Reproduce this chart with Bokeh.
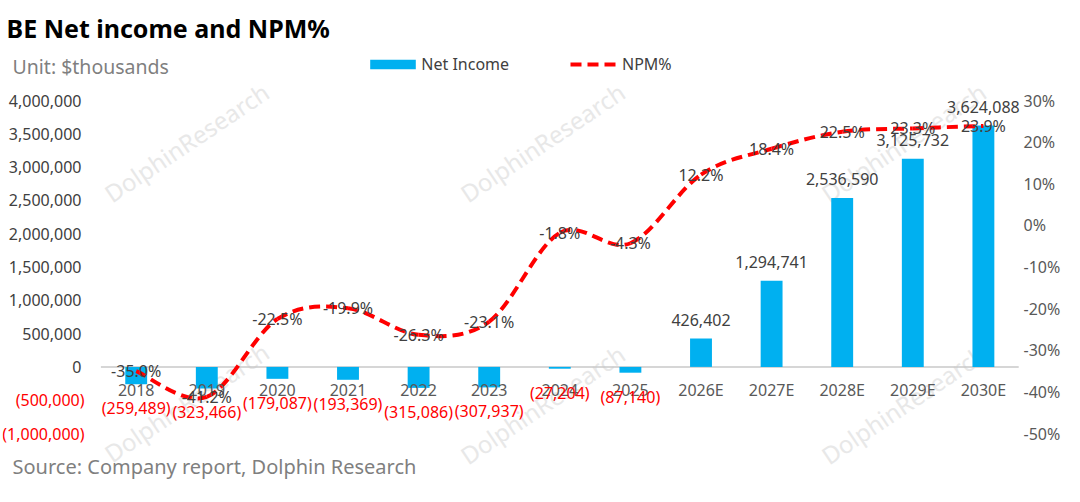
from bokeh.plotting import figure
from bokeh.models import (Range1d, LinearAxis, FixedTicker, NumeralTickFormatter,
                          PrintfTickFormatter, ColumnDataSource, LabelSet, Label,
                          Legend, LegendItem)
from bokeh.core.properties import value
from bokeh.embed import file_html
from bokeh.resources import INLINE

# ---------------- data ----------------
categories = ["2018", "2019", "2020", "2021", "2022", "2023", "2024", "2025",
              "2026E", "2027E", "2028E", "2029E", "2030E"]
net_income = [-259489, -323466, -179087, -193369, -315086, -307937, -27204, -87140,
              426402, 1294741, 2536590, 3125732, 3624088]
npm_pct = [-35.0, -41.2, -22.5, -19.9, -26.3, -23.1, -1.8, -4.3,
           12.2, 18.4, 22.5, 23.3, 23.9]
left_ticks = [0, 500000, 1000000, 1500000, 2000000, 2500000, 3000000, 3500000, 4000000]
left_neg_ticks = [-500000, -1000000]
right_ticks = [-50, -40, -30, -20, -10, 0, 10, 20, 30]

FONT = "Noto Sans"
BLUE = "#00b0f0"
RED = "#ff0000"

# ---------------- geometry (pixels) ----------------
W, H = 1064, 486
OX, OY = 2, 1                    # where the figure lands in the screenshot
FRAME_L, FRAME_R = 2, W - 6      # frame edges in figure px
FRAME_T, FRAME_B = 0, H
X0_PX, STEP_PX = 137.7 - OX, 70.6          # first category centre, spacing
Y_TOP_TICK_PX, Y_BOT_TICK_PX = 101 - OY, 434 - OY   # 4,000,000 / 30% and -1,000,000 / -50%
y_lo, y_hi = -1000000, 4000000
p_lo, p_hi = -50, 30


def span_range(lo, hi):
    per_px = (hi - lo) / (Y_BOT_TICK_PX - Y_TOP_TICK_PX)
    return Range1d(lo - (FRAME_B - Y_BOT_TICK_PX) * per_px,
                   hi + (Y_TOP_TICK_PX - FRAME_T) * per_px)


def sx(xw):   # screenshot x -> frame screen units
    return xw - OX - FRAME_L


def sy(yw):   # screenshot y -> frame screen units (from bottom)
    return FRAME_B - (yw - OY)


p = figure(width=W, height=H, output_backend="svg", toolbar_location=None,
           x_range=Range1d((FRAME_L - X0_PX) / STEP_PX, (FRAME_R - X0_PX) / STEP_PX),
           y_range=span_range(y_lo, y_hi),
           min_border_left=FRAME_L, min_border_right=W - FRAME_R, min_border_top=0,
           min_border_bottom=0, background_fill_color="white",
           border_fill_color="white", outline_line_color=None)
p.extra_y_ranges = {"pct": span_range(p_lo, p_hi)}
p.grid.visible = False
p.xaxis.visible = False

LEFT_LABEL_RIGHT = sx(83)        # right edge of left tick labels, from frame left
ax = p.yaxis[0]
ax.ticker = FixedTicker(ticks=left_ticks)
ax.formatter = NumeralTickFormatter(format="0,0")
ax.axis_line_color = None
ax.major_tick_line_color = None
ax.minor_tick_line_color = None
ax.major_tick_out = 0
ax.major_tick_in = 0
ax.major_label_standoff = -LEFT_LABEL_RIGHT
ax.major_label_text_font = FONT
ax.major_label_text_font_size = "16px"
ax.major_label_text_color = "#404040"

RIGHT_LABEL_LEFT = 1025 - OX
rax = LinearAxis(y_range_name="pct", ticker=FixedTicker(ticks=right_ticks),
                 formatter=PrintfTickFormatter(format="%d%%"))
rax.axis_line_color = None
rax.major_tick_line_color = None
rax.minor_tick_line_color = None
rax.major_tick_out = 0
rax.major_tick_in = 0
rax.major_label_standoff = -(FRAME_R - RIGHT_LABEL_LEFT)
rax.major_label_text_font = FONT
rax.major_label_text_font_size = "16px"
rax.major_label_text_color = "#595959"
p.add_layout(rax, "right")

# watermarks
wm_centers = [(188, 143), (544, 143), (905, 143), (188, 403), (544, 405), (905, 405)]
for (wx, wy) in wm_centers:
    p.add_layout(Label(x=sx(wx), y=sy(wy), x_units="screen", y_units="screen",
                       text="DolphinResearch", angle=0.59, text_align="center",
                       text_baseline="middle", text_font=FONT, text_font_size="24px",
                       text_color="#e8e8e8", level="underlay"))

xs = list(range(len(categories)))
# zero line across the category area
p.segment(x0=[xs[0] - 0.5], y0=[0], x1=[xs[-1] + 0.5], y1=[0],
          line_color="#c8c8c8", line_width=1.5)

src = ColumnDataSource(dict(x=xs, ni=net_income, cat=categories, pct=npm_pct,
                            pct_lbl=[f"{v:.1f}%" for v in npm_pct]))
bars = p.vbar(x="x", top="ni", bottom=0, width=0.31, source=src,
              fill_color=BLUE, line_color=None)

# smoothed NPM curve (cubic bezier through the data points)
n = len(npm_pct)
bz = dict(x0=[], y0=[], x1=[], y1=[], cx0=[], cy0=[], cx1=[], cy1=[])
for i in range(n - 1):
    a0 = max(i - 1, 0)
    a3 = min(i + 2, n - 1)
    bz["x0"].append(xs[i]); bz["y0"].append(npm_pct[i])
    bz["x1"].append(xs[i + 1]); bz["y1"].append(npm_pct[i + 1])
    bz["cx0"].append(xs[i] + (xs[i + 1] - xs[a0]) / 6.0)
    bz["cy0"].append(npm_pct[i] + (npm_pct[i + 1] - npm_pct[a0]) / 6.0)
    bz["cx1"].append(xs[i + 1] - (xs[a3] - xs[i]) / 6.0)
    bz["cy1"].append(npm_pct[i + 1] - (npm_pct[a3] - npm_pct[i]) / 6.0)
curve = p.bezier(x0="x0", y0="y0", x1="x1", y1="y1", cx0="cx0", cy0="cy0",
                 cx1="cx1", cy1="cy1", source=ColumnDataSource(bz),
                 y_range_name="pct", line_color=RED, line_width=4, line_dash="11 6")

LBL = dict(text_font=value(FONT), text_font_size="16px", text_baseline="middle")

# category labels at the zero line
p.add_layout(LabelSet(x="x", y=0, text="cat", source=src, y_offset=-23,
                      text_align="center", text_color="#595959", **LBL))

# net income data labels
pos = [i for i, v in enumerate(net_income) if v >= 0]
neg = [i for i, v in enumerate(net_income) if v < 0]
pos_src = ColumnDataSource(dict(x=[xs[i] for i in pos], y=[net_income[i] for i in pos],
                                t=[f"{net_income[i]:,}" for i in pos]))
neg_src = ColumnDataSource(dict(x=[xs[i] for i in neg], y=[net_income[i] for i in neg],
                                t=[f"({-net_income[i]:,})" for i in neg]))
p.add_layout(LabelSet(x="x", y="y", text="t", source=pos_src, y_offset=19,
                      text_align="center", text_color="#404040", **LBL))
p.add_layout(LabelSet(x="x", y="y", text="t", source=neg_src, y_offset=-24,
                      text_align="center", text_color=RED, **LBL))

# NPM labels
p.add_layout(LabelSet(x="x", y="pct", text="pct_lbl", source=src, y_range_name="pct",
                      text_align="center", text_color="#404040", **LBL))

# negative left-axis labels in red with parentheses
nt_src = ColumnDataSource(dict(x=[sx(86)] * len(left_neg_ticks), y=left_neg_ticks,
                               t=[f"({-v:,})" for v in left_neg_ticks]))
p.add_layout(LabelSet(x="x", y="y", text="t", source=nt_src, x_units="screen",
                      text_align="right", text_color=RED, **LBL))

# legends
LEG = dict(orientation="horizontal", padding=0, margin=0, border_line_color=None,
           background_fill_alpha=0, label_text_font=FONT, label_text_font_size="16px",
           label_text_color="#404040", glyph_height=12)
leg1 = Legend(items=[LegendItem(label="Net Income", renderers=[bars])],
              location=(sx(366.3), sy(76)), glyph_width=57, label_standoff=0, **LEG)
leg2 = Legend(items=[LegendItem(label="NPM%", renderers=[curve])],
              location=(sx(572), sy(76)), glyph_width=47, label_standoff=5, **LEG)
p.add_layout(leg1, "center")
p.add_layout(leg2, "center")

# title, unit note, source
p.add_layout(Label(x=sx(8), y=sy(28), x_units="screen", y_units="screen",
                   text="BE Net income and NPM%", text_font=FONT, text_font_size="25px",
                   text_font_style="bold", text_color="#000000", text_baseline="middle"))
p.add_layout(Label(x=sx(14), y=sy(67), x_units="screen", y_units="screen",
                   text="Unit: $thousands", text_font=FONT, text_font_size="19.5px",
                   text_color="#7f7f7f", text_baseline="middle"))
p.add_layout(Label(x=sx(14), y=sy(467), x_units="screen", y_units="screen",
                   text="Source: Company report, Dolphin Research", text_font=FONT,
                   text_font_size="20px", text_color="#7f7f7f", text_baseline="middle"))

open("out.html", "w").write(file_html(p, INLINE))
